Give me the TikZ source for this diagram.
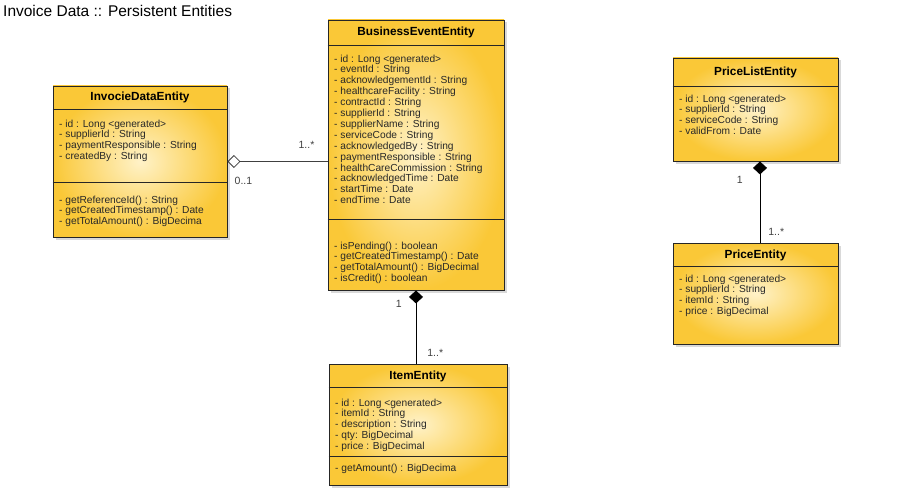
\documentclass[tikz,border=0pt]{standalone}
\usepackage{fontspec}
\setmainfont{Liberation Sans}
\usetikzlibrary{positioning,arrows.meta,calc,shadows}

\definecolor{entityOuter}{RGB}{250,200,55}
\definecolor{entityInner}{RGB}{255,242,200}
\definecolor{memberText}{RGB}{40,40,40}

% horizontal compartment line, #2 px below the top of entity #1
\newcommand{\entitysep}[2]{\draw[sepline] ($(#1.north west)+(0,#2)$) -- ($(#1.north east)+(0,#2)$);}

\begin{document}
\begin{tikzpicture}[x=1pt, y=-1pt,
    entity/.style={rectangle, draw=black!85, line width=0.9pt, inner color=entityInner,
                   outer color=entityOuter, inner sep=0,
                   drop shadow={shadow xshift=2.5pt, shadow yshift=-2.5pt, opacity=0.3}},
    classname/.style={font=\fontsize{11.8}{13}\selectfont\bfseries, inner sep=0},
    members/.style={font=\fontsize{10.2}{10.9}\selectfont, text=memberText, align=left,
                    inner sep=0, anchor=north west},
    sepline/.style={draw=black!85, line width=0.9pt},
    aggregation/.style={{Diamond[open, length=13pt, width=13pt]}-, line width=0.8pt, draw=black!75},
    composition/.style={{Diamond[length=13pt, width=14pt]}-, line width=0.8pt},
    mult/.style={font=\fontsize{10.5}{12}\selectfont, text=black!75, inner sep=0}
]
\useasboundingbox (0,0) rectangle (915,492);

% Title
\node[font=\fontsize{15.5}{18}\selectfont, anchor=base west, inner sep=0] (pagetitle) at (3,16.5)
    {Invoice Data :: Persistent Entities};

% Entity boxes
\node[entity, minimum width=174, minimum height=151] (invdata) at (140,161.5) {};
\node[entity, minimum width=176, minimum height=270] (busevent) at (416,155) {};
\node[entity, minimum width=178, minimum height=121] (item) at (418,424.5) {};
\node[entity, minimum width=165, minimum height=103] (pricelist) at (755.5,109.5) {};
\node[entity, minimum width=165, minimum height=101] (price) at (755.5,293.5) {};

% Compartments
\entitysep{invdata}{24}
\entitysep{invdata}{97}
\entitysep{busevent}{26}
\entitysep{busevent}{200}
\entitysep{item}{24}
\entitysep{item}{93}
\entitysep{pricelist}{29}
\entitysep{price}{24}

% InvocieDataEntity
\node[classname] (invdata-name) at (140,97) {InvocieDataEntity};
\node[members] (invdata-attr) at (59,119.5)
    {- id : Long <generated>\\- supplierId : String\\- paymentResponsible : String\\- createdBy : String};
\node[members] (invdata-ops) at (59,195.5)
    {- getReferenceId() : String\\- getCreatedTimestamp() : Date\\- getTotalAmount() : BigDecima};

% BusinessEventEntity
\node[classname] (busevent-name) at (416,32) {BusinessEventEntity};
\node[members] (busevent-attr) at (334,54.5)
    {- id : Long <generated>\\- eventId : String\\- acknowledgementId : String\\- healthcareFacility : String\\
     - contractId : String\\- supplierId : String\\- supplierName : String\\- serviceCode : String\\
     - acknowledgedBy : String\\- paymentResponsible : String\\- healthCareCommission : String\\
     - acknowledgedTime : Date\\- startTime : Date\\- endTime : Date};
\node[members] (busevent-ops) at (334,241.5)
    {- isPending() : boolean\\- getCreatedTimestamp() : Date\\- getTotalAmount() : BigDecimal\\- isCredit() : boolean};

% ItemEntity
\node[classname] (item-name) at (418,376) {ItemEntity};
\node[members] (item-attr) at (335,398.5)
    {- id : Long <generated>\\- itemId : String\\- description : String\\- qty: BigDecimal\\- price : BigDecimal};
\node[members] (item-ops) at (335,463.5) {- getAmount() : BigDecima};

% PriceListEntity
\node[classname] (pricelist-name) at (755.5,72) {PriceListEntity};
\node[members] (pricelist-attr) at (679,94.5)
    {- id : Long <generated>\\- supplierId : String\\- serviceCode : String\\- validFrom : Date};

% PriceEntity
\node[classname] (price-name) at (755.5,255) {PriceEntity};
\node[members] (price-attr) at (679,274.5)
    {- id : Long <generated>\\- supplierId : String\\- itemId : String\\- price : BigDecimal};

% Associations
\draw[aggregation] (invdata.east) -- node[mult, pos=0.16, below=15pt] {0..1}
    node[mult, pos=0.79, above=13pt] {1..*} (invdata.east -| busevent.west);
\draw[composition] (busevent.south) -- node[mult, pos=0.18, left=14pt] {1}
    node[mult, pos=0.85, right=11pt] {1..*} (busevent.south |- item.north);
\draw[composition] ([xshift=4.5pt]pricelist.south) -- node[mult, pos=0.23, left=17pt] {1}
    node[mult, pos=0.87, right=8pt] {1..*} ([xshift=4.5pt]price.north);

\end{tikzpicture}
\end{document}
